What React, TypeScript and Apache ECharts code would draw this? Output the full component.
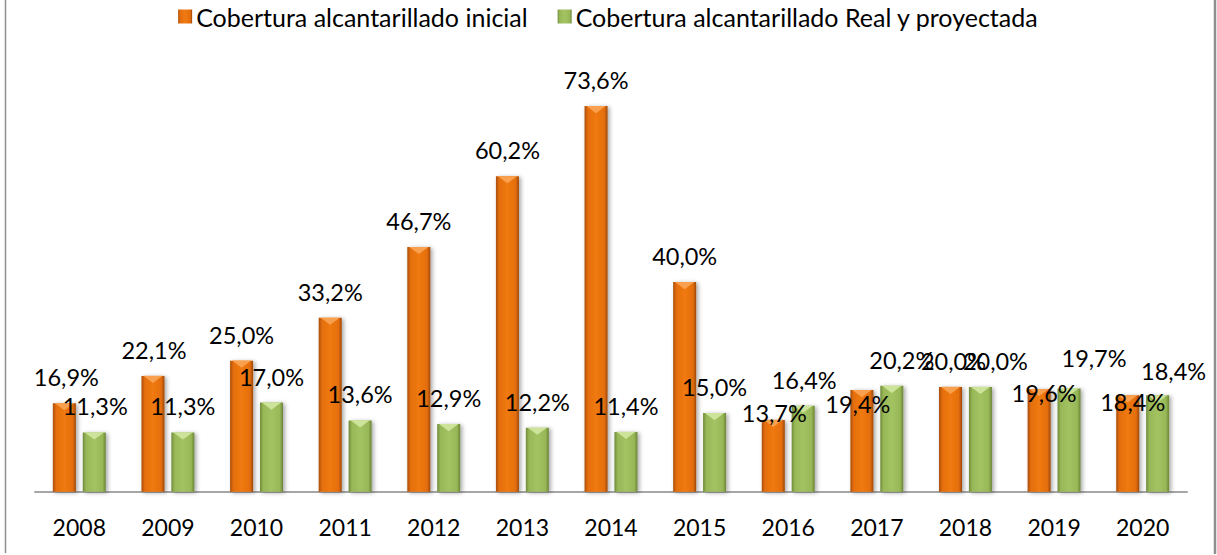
import React, { useEffect, useRef } from "react";
import * as echarts from "echarts";

const years = ["2008", "2009", "2010", "2011", "2012", "2013", "2014", "2015", "2016", "2017", "2018", "2019", "2020"];
const inicial = [16.9, 22.1, 25.0, 33.2, 46.7, 60.2, 73.6, 40.0, 13.7, 19.4, 20.0, 19.6, 18.4];
const realProyectada = [11.3, 11.3, 17.0, 13.6, 12.9, 12.2, 11.4, 15.0, 16.4, 20.2, 20.0, 19.7, 18.4];
const seriesNames = ["Cobertura alcantarillado inicial", "Cobertura alcantarillado Real y proyectada"];

// label offsets (styling only), indexed by year position
const offInicial: Record<number, [number, number]> = { 0: [2, 0], 1: [1, 0], 8: [1, 19], 9: [-4, 40], 10: [3, 0], 11: [5, 30], 12: [5, 33] };
const offReal: Record<number, [number, number]> = { 0: [1, 0], 8: [1, 0], 9: [10, 0], 10: [15, 0], 11: [25, -4], 12: [16, 2] };

const FONT = "Lato, 'Noto Sans', sans-serif";

const fmt = (v: number) => v.toFixed(1).replace(".", ",") + "%";

export default function App() {
  const ref = useRef<HTMLDivElement>(null);
  useEffect(() => {
    document.body.style.margin = "0";
    const chart = echarts.init(ref.current!, undefined, { renderer: "svg" });
    const orangeGrad = new echarts.graphic.LinearGradient(0, 0, 1, 0, [
      { offset: 0, color: "#A94C06" },
      { offset: 0.14, color: "#E46E0C" },
      { offset: 0.5, color: "#F07A12" },
      { offset: 0.86, color: "#E46E0C" },
      { offset: 1, color: "#9E4705" },
    ]);
    const greenGrad = new echarts.graphic.LinearGradient(0, 0, 1, 0, [
      { offset: 0, color: "#6F8A3A" },
      { offset: 0.14, color: "#98B757" },
      { offset: 0.5, color: "#A3C262" },
      { offset: 0.86, color: "#98B757" },
      { offset: 1, color: "#6A8436" },
    ]);
    const mk = (vals: number[], offs: Record<number, [number, number]>) =>
      vals.map((v, i) => ({
        value: v,
        label: { offset: offs[i] || [0, 0] },
      }));
    const labelCfg = {
      show: true,
      position: "top" as const,
      distance: 16,
      fontFamily: FONT,
      fontSize: 23.5,
      lineHeight: 20,
      color: "#000",
      formatter: (p: any) => fmt(p.value),
    };
    const tri = "path://M0,0L20,0L10,7Z";
    const barShadow = {
      shadowColor: "rgba(0,0,0,0.35)",
      shadowBlur: 4,
      shadowOffsetX: 2,
      shadowOffsetY: 1,
    };
    const triSeries = (name: string, vals: number[], offs: Record<number, [number, number]>, color: string) => ({
      name,
      type: "pictorialBar",
      data: mk(vals, offs),
      barWidth: 23,
      barGap: "30%",
      symbol: tri,
      symbolSize: [19, 7],
      symbolPosition: "end",
      symbolOffset: [0, 0],
      itemStyle: { color },
      label: labelCfg,
      silent: true,
      z: 3,
    });
    chart.setOption({
      animation: false,
      backgroundColor: "#fff",
      legend: {
        data: seriesNames,
        top: -1,
        left: "center",
        itemWidth: 14,
        itemHeight: 14,
        itemGap: 30,
        icon: "rect",
        textStyle: { fontFamily: FONT, fontSize: 25, color: "#000", padding: [0, 0, 0, -1] },
      },
      grid: { left: 35, right: 30, top: 72.5, bottom: 63.3 },
      xAxis: {
        type: "category",
        data: years,
        axisLine: { show: true, lineStyle: { color: "#A6A6A6", width: 2 } },
        axisTick: { show: false },
        axisLabel: { fontFamily: FONT, fontSize: 23, color: "#000", margin: 24 },
      },
      yAxis: {
        type: "value",
        min: 0,
        max: 80,
        show: false,
        splitLine: { show: false },
      },
      series: [
        {
          name: seriesNames[0],
          type: "bar",
          data: inicial,
          barWidth: 23,
          barGap: "30%",
          itemStyle: { color: orangeGrad, ...barShadow },
        },
        {
          name: seriesNames[1],
          type: "bar",
          data: realProyectada,
          barWidth: 23,
          barGap: "30%",
          itemStyle: { color: greenGrad, ...barShadow },
        },
        triSeries("triA", inicial, offInicial, "#F9A04E"),
        triSeries("triB", realProyectada, offReal, "#CDE39A"),
      ],
      graphic: [
        { type: "line", shape: { x1: 5.5, y1: 0, x2: 5.5, y2: 553 }, style: { stroke: "#8F8F8F", lineWidth: 1.5 } },
        { type: "line", shape: { x1: 1215, y1: 0, x2: 1215, y2: 554 }, style: { stroke: "#8F8F8F", lineWidth: 2.5 } },
      ],
    });
    return () => chart.dispose();
  }, []);
  return <div ref={ref} style={{ width: 1217, height: 555 }} />;
}
